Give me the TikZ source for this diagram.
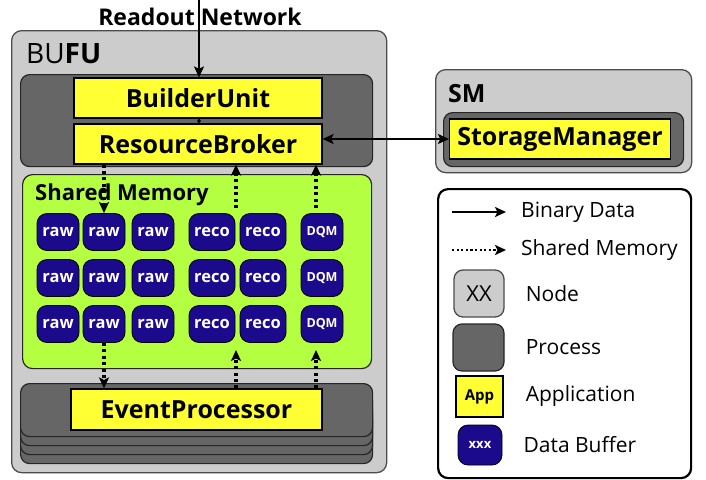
\documentclass[tikz,border=0pt]{standalone}
\usepackage{fontspec}
\setmainfont{Open Sans}
\usetikzlibrary{arrows.meta, positioning}

\definecolor{nodegray}{HTML}{CCCCCC}
\definecolor{procgray}{HTML}{666666}
\definecolor{appyellow}{HTML}{FFFF33}
\definecolor{memgreen}{HTML}{B4FF42}
\definecolor{bufblue}{HTML}{1C0A8C}

\begin{document}
\begin{tikzpicture}[
    x=1pt, y=-1pt,
    nodebox/.style={draw=black!70, fill=nodegray, rounded corners=10pt, line width=1.3pt, anchor=north west},
    procbox/.style={draw=black!85, fill=procgray, rounded corners=9pt, line width=1.2pt, anchor=north west},
    membox/.style={draw=black!85, fill=memgreen, rounded corners=10pt, line width=1.2pt, anchor=north west},
    appbox/.style={draw=black, fill=appyellow, line width=1.2pt, inner sep=0pt, font=\bfseries\fontsize{25}{25}\selectfont},
    buffer/.style={draw=black, fill=bufblue, rounded corners=10pt, line width=0.8pt, minimum width=42pt, minimum height=37pt, inner sep=0pt, text=white, font=\bfseries\fontsize{16.5}{16.5}\selectfont},
    legtext/.style={font=\fontsize{21}{21}\selectfont, inner sep=0pt},
    tip/.tip={Stealth[length=11pt, width=10pt, inset=2.5pt]},
    arrow/.style={-tip, line width=2.4pt},
    dblarrow/.style={tip-tip, line width=2.4pt},
    shm/.style={-tip, line width=3.2pt, dash pattern=on 3pt off 3.4pt},
]
\fill[white] (0,0) rectangle (706,479);
\useasboundingbox (0,0) rectangle (706,479);

% BUFU node
\node[nodebox, minimum width=375pt, minimum height=442pt] (bufu) at (11,30) {};
\node[anchor=base west, inner sep=0pt, font=\fontsize{28}{28}\selectfont] (bufulabel) at (26,63) {BU\textbf{FU}};

% builder unit / resource broker process
\node[procbox, minimum width=352pt, minimum height=92pt] (buproc) at (20,74) {};
\node[appbox, minimum width=248pt, minimum height=40pt] (bu) at (198,98) {BuilderUnit};
\node[appbox, minimum width=248pt, minimum height=40pt] (rb) at (198,144) {ResourceBroker};

% Shared memory with buffers
\node[membox, minimum width=349pt, minimum height=194pt] (shmem) at (22,174) {};
\node[anchor=base west, inner sep=0pt, font=\bfseries\fontsize{22}{22}\selectfont] (shmlabel) at (35,200) {Shared Memory};
\foreach \r/\y in {1/232, 2/278, 3/324} {
  \foreach \c/\x in {1/58, 2/104, 3/153}
    \node[buffer] (raw-\r-\c) at (\x,\y) {raw};
  \foreach \c/\x in {1/212, 2/263}
    \node[buffer, minimum width=46pt] (reco-\r-\c) at (\x,\y) {reco};
  \node[buffer, font=\bfseries\fontsize{12.5}{12.5}\selectfont] (dqm-\r) at (322,\y) {DQM};
}

% event processor stack
\foreach \i in {3,2,1,0}
  \node[procbox, minimum width=352pt, minimum height=53pt] (epproc-\i) at (20,383+9*\i) {};
\node[appbox, minimum width=251pt, minimum height=41pt] (ep) at (196.5,409.5) {EventProcessor};

% SM node
\node[nodebox, minimum width=256pt, minimum height=103pt] (smnode) at (435,69) {};
\node[anchor=base west, inner sep=0pt, font=\bfseries\fontsize{25}{25}\selectfont] (smlabel) at (448,102) {SM};
\node[procbox, minimum width=240pt, minimum height=54pt] (smproc) at (443,112) {};
\node[appbox, minimum width=221pt, minimum height=40pt] (sm) at (560,139) {StorageManager};

% connectors
\coordinate (rotop) at (199,0);
\node[font=\bfseries\fontsize{23}{23}\selectfont, inner sep=0pt] (rotitle) at (200,16.5) {Readout Network};
\draw[arrow] (rotop) -- (bu.north -| rotop);
\draw[{Stealth[length=3pt, width=4pt]}-{Stealth[length=3pt, width=4pt]}, line width=0.8pt] (bu.south -| rotop) -- (rb.north -| rotop);
\draw[dblarrow] (sm.west -| rb.east) -- (sm.west);

\coordinate (recotop) at (236,208);
\coordinate (dqmtop) at (316,208);
\coordinate (recobot) at (236,350);
\coordinate (dqmbot) at (316,350);
\draw[shm] (rb.south -| raw-1-2) -- (raw-1-2.north);
\draw[shm] (raw-3-2.south) -- (ep.north -| raw-3-2);
\draw[shm] (recotop) -- (rb.south -| recotop);
\draw[shm] (dqmtop) -- (rb.south -| dqmtop);
\draw[shm] (ep.north -| recobot) -- (recobot);
\draw[shm] (ep.north -| dqmbot) -- (dqmbot);

% legend
\node[draw=black, fill=white, rounded corners=10pt, line width=2.2pt, anchor=north west, minimum width=253pt, minimum height=289pt] (legend) at (437,188) {};
\coordinate (lbinA) at (452,212);
\coordinate (lbinB) at (506,212);
\coordinate (lshmA) at (452,250);
\coordinate (lshmB) at (506,250);
\draw[-tip, line width=2.2pt] (lbinA) -- (lbinB);
\draw[-tip, line width=2.4pt, dash pattern=on 2.2pt off 2.4pt] (lshmA) -- (lshmB);
\node[legtext, anchor=west] (lbintext) at (521,212) {Binary Data};
\node[legtext, anchor=west] (lshmtext) at (521,250) {Shared Memory};

\node[draw=black!70, fill=nodegray, rounded corners=9pt, line width=1.3pt, minimum width=50pt, minimum height=47pt, inner sep=0pt, font=\fontsize{22}{22}\selectfont] (lnode) at (479,293.5) {XX};
\node[legtext, right=21pt of lnode] (lnodetext) {Node};
\node[draw=black!85, fill=procgray, rounded corners=9pt, line width=1.2pt, minimum width=51pt, minimum height=47pt] (lproc) at (478.5,347.5) {};
\node[legtext, right=21pt of lproc] (lproctext) {Process};
\node[appbox, minimum width=47pt, minimum height=41pt, font=\bfseries\fontsize{15}{15}\selectfont] (lapp) at (479.5,396.5) {App};
\node[legtext, right=22pt of lapp] (lapptext) {Application};
\node[buffer, minimum width=44pt, minimum height=40pt, font=\bfseries\fontsize{13}{13}\selectfont] (lbuf) at (480,445) {xxx};
\node[legtext, right=21pt of lbuf] (lbuftext) {Data Buffer};
\end{tikzpicture}
\end{document}
